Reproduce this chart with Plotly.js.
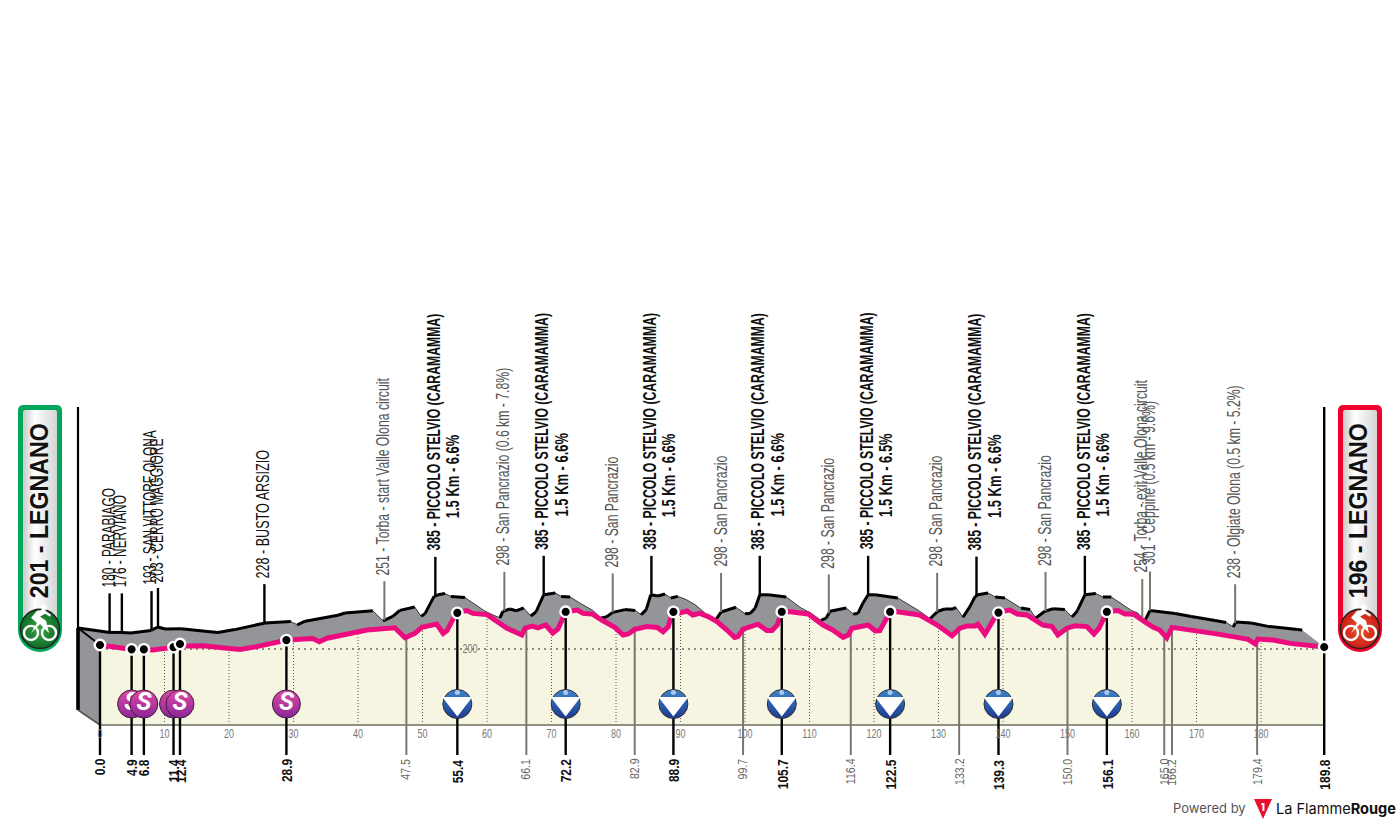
<!DOCTYPE html>
<html><head><meta charset="utf-8">
<script src="https://cdn.plot.ly/plotly-3.0.1.min.js"></script>
<style>html,body{margin:0;padding:0;background:#fff}#c{width:1400px;height:825px}</style>
</head><body><div id="c"></div>
<script>
// ---- DATA ----
const profileKm=[0,4.96,6.8,8.2,11.3,12.4,13.5,16,19.7,21.7,24.3,29,33,34,35.2,40.3,41.4,45.7,47.3,48.8,49.9,52.2,53.2,53.8,55.2,55.8,56.9,57.8,60,61.6,63.1,64.3,65.4,65.9,67,67.9,69.1,70.2,71,72.2,74,74.9,76.3,77.8,79.8,81.1,81.9,82.9,84.8,86.4,87.3,88.1,88.8,89.9,91,91.9,93,94.3,95.7,97.2,98.4,98.9,99.7,102,103.4,104.2,105,105.7,107,109.8,112.1,113.6,115.2,116,116.6,119.1,120.2,120.9,121.7,122.5,123.6,127.1,129.8,130.5,132.1,133.3,134.4,135.7,136.1,137.2,138.3,139.1,139.5,141.1,142.2,143.7,146.2,147.6,148.5,149.9,151.2,153,154.1,154.9,156.1,157.8,158.9,160.2,162,163.3,164.3,165.4,166.2,170.1,172.6,176.3,178,179.1,179.5,181.9,184.5,189.1,189.8];
const profileElev=[220,198,198,195,208,225,215,216,204,198,212,245,252,236,254,284,295,306,256,278,308,325,278,292,378,386,392,378,372,336,304,286,270,304,315,306,320,280,300,386,395,378,375,345,308,270,275,298,312,308,286,312,386,380,390,370,378,362,336,295,258,262,300,324,292,292,320,386,386,375,320,295,258,270,304,320,290,292,345,386,386,370,320,304,266,304,315,315,324,274,328,378,386,395,375,370,320,312,270,304,316,312,275,304,386,392,375,375,336,308,295,256,308,292,278,258,248,225,250,245,228,212,210];
const tickKm=[0,10,20,30,40,50,60,70,80,90,100,110,120,130,140,150,160,170,180];
const endKm=[0,189.8];
const sprintKm=[4.9,6.8,11.4,12.4,28.9];
const sprintNames=["180 - PARABIAGO","176 - NERVIANO","193 - SAN VITTORE OLONA","203 - CERRO MAGGIORE","228 - BUSTO ARSIZIO"];
const komKm=[55.4,72.2,88.9,105.7,122.5,139.3,156.1];
const komName="385 - PICCOLO STELVIO (CARAMAMMA)";
const komGrades=["1.5 Km - 6.6%","1.5 Km - 6.6%","1.5 Km - 6.6%","1.5 Km - 6.6%","1.5 Km - 6.5%","1.5 Km - 6.6%","1.5 Km - 6.6%"];
const minorKm=[47.5,66.1,82.9,99.7,116.4,133.2,150.0,165.0,166.2,179.4];
const minorNames=["251 - Torba - start Valle Olona circuit","298 - San Pancrazio (0.6 km - 7.8%)","298 - San Pancrazio","298 - San Pancrazio","298 - San Pancrazio","298 - San Pancrazio","298 - San Pancrazio","254 - Torba - exit Valle Olona circuit","301 - Ceppine (0.5 km - 9.6%)","238 - Olgiate Olona (0.5 km - 5.2%)"];
const startLabel="201 - LEGNANO", endLabel="196 - LEGNANO";

// ---- SCALES / STYLE ----
const W=1400,H=825;
const xRange=[-100/6.45,(W-100)/6.45];
const yRange=[200-(H-649)*5,200+649*5];
const base=-180, dropEnd=-330, iconY=-75;
const ridgeDx=3.41, ridgeDy=85, stemRise=195;
const SANS='"Liberation Sans",sans-serif';
const GRAY='#939598',CREAM='#f5f5e1',PINK='#ec0c80',STEM='#77776c';
const sprintFit=[0.66,0.66,0.66,0.67,0.70];
function elevAt(k){for(let i=1;i<profileKm.length;i++){if(k<=profileKm[i]){const t=(k-profileKm[i-1])/(profileKm[i]-profileKm[i-1]);return profileElev[i-1]+t*(profileElev[i]-profileElev[i-1]);}}return profileElev[profileElev.length-1];}
const ridgeKm=profileKm.map(k=>k-ridgeDx), ridgeElev=profileElev.map(e=>e+ridgeDy);
function stems(ks,y0fn,y1fn){const x=[],y=[];ks.forEach(k=>{x.push(k,k,null);y.push(y0fn(k),y1fn(k),null);});return {x,y};}
const line=(d,color,width,dash)=>({type:'scatter',mode:'lines',x:d.x,y:d.y,hoverinfo:'skip',showlegend:false,line:{color,width,dash:dash||'solid'}});
const poly=(x,y,color)=>({type:'scatter',mode:'lines',x,y,fill:'toself',fillcolor:color,line:{width:0,color},hoverinfo:'skip',showlegend:false});

const traces=[];
traces.push(poly([-ridgeDx,-ridgeDx,0,0],[profileElev[0]+ridgeDy,base+75,base,profileElev[0]],GRAY));
const lastK=profileKm[profileKm.length-1], lastE=profileElev[profileElev.length-1];
traces.push(poly(ridgeKm.concat(profileKm.slice().reverse()),ridgeElev.concat(profileElev.slice().reverse()),GRAY));
traces.push(line({x:ridgeKm,y:ridgeElev},'#3a3a3a',1));
const hx=[],hy=[];
for(let i=1;i<ridgeKm.length;i++){const s=(ridgeElev[i]-ridgeElev[i-1])/(ridgeKm[i]-ridgeKm[i-1]);if(s>=-10){hx.push(ridgeKm[i-1],ridgeKm[i],null);hy.push(ridgeElev[i-1],ridgeElev[i],null);}}
traces.push(line({x:hx,y:hy},'#000',3));
traces.push(line({x:[-ridgeDx,0],y:[profileElev[0]+ridgeDy,profileElev[0]]},'#000',1.8));
traces.push(line({x:[-ridgeDx,-ridgeDx],y:[1410,base+75]},'#000',2.2));
traces.push(line({x:[-ridgeDx,-ridgeDx],y:[profileElev[0]+ridgeDy,base+75]},'#000',3.6));
traces.push(line({x:[-ridgeDx,0],y:[base+75,base]},'#55554c',1.6));
const ridgeAt=k=>elevAt(k)+ridgeDy;
const upTop=k=>elevAt(k)+ridgeDy+stemRise;
traces.push(line(stems(minorKm.map(k=>k-ridgeDx),k=>ridgeAt(k+ridgeDx),k=>upTop(k+ridgeDx)),STEM,2));
traces.push(line(stems(sprintKm.concat(komKm).map(k=>k-ridgeDx),k=>ridgeAt(k+ridgeDx),k=>upTop(k+ridgeDx)),'#000',2.4));
traces.push(poly([0].concat(profileKm,[lastK]),[base].concat(profileElev,[base]),CREAM));
traces.push(line(stems(tickKm.slice(1),k=>base,k=>elevAt(k)),'#55554c',1,'1px,2px'));
traces.push(line({x:[0,lastK],y:[200,200]},'#8d8d80',2,'2px,4px'));
traces.push(line({x:[0,lastK],y:[base,base]},'#8f8f82',2.2));
traces.push(line(stems(minorKm,k=>elevAt(k),k=>dropEnd),STEM,2));
traces.push(line({x:profileKm,y:profileElev},PINK,5));
traces.push(line(stems(endKm.concat(sprintKm,komKm),k=>elevAt(k),k=>dropEnd),'#000',2.4));
traces.push(line({x:[lastK,lastK],y:[lastE,1410]},'#000',2.4));
sprintKm.forEach(k=>{
 traces.push({type:'scatter',mode:'markers',x:[k],y:[iconY],hoverinfo:'skip',showlegend:false,
  marker:{size:28,color:'#e04aa4',gradient:{type:'vertical',color:'#8a2596'},line:{color:'#3a2040',width:1}}});
 traces.push({type:'scatter',mode:'text',x:[k],y:[iconY],text:['S'],textposition:'middle center',hoverinfo:'skip',showlegend:false,
  textfont:{family:'Roboto',size:25,color:'#fff',weight:700,style:'italic'}});
});
traces.push({type:'scatter',mode:'markers',x:komKm,y:komKm.map(()=>iconY),hoverinfo:'skip',showlegend:false,
  marker:{size:29,color:'#3f84cc',gradient:{type:'vertical',color:'#1c3a8e'},line:{color:'#333',width:1}}});
traces.push({type:'scatter',mode:'markers',x:komKm,y:komKm.map(()=>iconY+3),hoverinfo:'skip',showlegend:false,
  marker:{size:26,color:'#fff',symbol:'triangle-down'}});
traces.push({type:'scatter',mode:'markers',x:komKm,y:komKm.map(()=>iconY+57),hoverinfo:'skip',showlegend:false,
  marker:{size:5,color:'#a9c8ea'}});
const dotKm=endKm.concat(sprintKm,komKm);
traces.push({type:'scatter',mode:'markers',x:dotKm,y:dotKm.map(elevAt),hoverinfo:'skip',showlegend:false,
  marker:{size:10.5,color:'#000',line:{color:'#fff',width:2.4}}});

// ---- TEXT ----
const ann=[],fit=[];
const up=(k,text,size,color,bold,dx,dy,f)=>{ann.push({x:k-ridgeDx,y:upTop(k),xref:'x',yref:'y',text:bold?'<b>'+text+'</b>':text,textangle:-90,showarrow:false,
  xanchor:'center',yanchor:'bottom',xshift:dx||0,yshift:(dy||0)+5,borderpad:0,font:{family:SANS,size,color}});fit.push([f,'start']);};
const down=(k,text,size,color,bold,f)=>{ann.push({x:k,y:dropEnd,xref:'x',yref:'y',text:bold?'<b>'+text+'</b>':text,textangle:-90,showarrow:false,
  xanchor:'center',yanchor:'top',yshift:-3,borderpad:0,font:{family:SANS,size,color}});fit.push([f,'end']);};
sprintKm.forEach((k,i)=>{up(k,sprintNames[i],18,'#111',false,-1,0,sprintFit[i]);down(k,k.toFixed(1),15,'#111',true,0.8);});
komKm.forEach((k,i)=>{up(k,komName,18,'#111',true,-1,0,0.68);up(k,komGrades[i],18,'#111',true,18,33,0.72);down(k,k.toFixed(1),15,'#111',true,0.8);});
minorKm.forEach((k,i)=>{up(k,minorNames[i],18,'#555',false,-1,0,0.68);down(k,k.toFixed(1),12.5,'#666',false,0.85);});
endKm.forEach(k=>down(k,k.toFixed(1),15,'#111',true,0.8));
ann.push({x:55.4+2,y:200,xref:'x',yref:'y',text:'200',showarrow:false,xanchor:'center',yanchor:'middle',font:{family:SANS,size:12,color:'#7a7a70'}});fit.push([0.75,'mid']);
const pa=(px,py,text,size,color,family,f)=>{ann.push({x:px/W,y:1-py/H,xref:'paper',yref:'paper',text,showarrow:false,xanchor:'left',yanchor:'middle',borderpad:0,font:{family,size,color}});fit.push([f,'start']);};
ann.push({x:39/W,y:1-511/H,xref:'paper',yref:'paper',text:'<b>'+startLabel+'</b>',textangle:-90,showarrow:false,xanchor:'center',yanchor:'middle',borderpad:0,font:{family:SANS,size:26,color:'#111'}});fit.push([0.89,'mid']);
ann.push({x:1358/W,y:1-511/H,xref:'paper',yref:'paper',text:'<b>'+endLabel+'</b>',textangle:-90,showarrow:false,xanchor:'center',yanchor:'middle',borderpad:0,font:{family:SANS,size:26,color:'#111'}});fit.push([0.89,'mid']);
pa(1172,808,'Powered by',13,'#555','Inter',1);
pa(1275,808,'La Flamme<b>Rouge</b>',15,'#111','Inter',0.97);

// ---- DECORATION ----
function banner(edge,grad1,grad2){
 const rider='<g fill="#fff"><circle cx="29" cy="229" r="7" fill="none" stroke="#fff" stroke-width="2.4"/><circle cx="47" cy="229" r="7" fill="none" stroke="#fff" stroke-width="2.4"/><path d="M29 229l9-9 9 9-3-12-6-4 5-3 5 3 1-2-7-5-7 1-6 7 6 5z"/><circle cx="42" cy="204" r="3"/></g>';
 const svg='<svg xmlns="http://www.w3.org/2000/svg" width="46" height="248" viewBox="0 0 46 248"><defs><linearGradient id="g"><stop offset="0" stop-color="#c9c9c9"/><stop offset=".35" stop-color="#fff"/><stop offset="1" stop-color="#d4d4d4"/></linearGradient><radialGradient id="r"><stop offset="0" stop-color="'+grad1+'"/><stop offset="1" stop-color="'+grad2+'"/></radialGradient></defs>'+
 '<path d="M6 1h34a5 5 0 0 1 5 5v219a22 22 0 0 1-44 0v-219a5 5 0 0 1 5-5z" fill="'+edge+'"/>'+
 '<rect x="6" y="6" width="34" height="215" rx="2" fill="url(#g)"/>'+
 '<circle cx="23" cy="224" r="19.5" fill="url(#r)" stroke="#222" stroke-width="1.5"/><g transform="translate(-15,-1)">'+rider+'</g></svg>';
 return 'data:image/svg+xml;base64,'+btoa(svg);
}
const img=(src,px,py,w,h)=>({source:src,xref:'paper',yref:'paper',x:px/W,y:1-py/H,sizex:w/W,sizey:h/H,xanchor:'left',yanchor:'top',sizing:'stretch',layer:'above'});
const logo='data:image/svg+xml;base64,'+btoa('<svg xmlns="http://www.w3.org/2000/svg" width="20" height="22" viewBox="0 0 20 22"><path d="M1 1h18l-9 20z" fill="#e8112d"/><path d="M9 5h2.4v8h-2v-6h-1.6z" fill="#fff"/></svg>');

const layout={width:W,height:H,margin:{l:0,r:0,t:0,b:0},paper_bgcolor:'#fff',plot_bgcolor:'#fff',showlegend:false,
 xaxis:{range:xRange,domain:[0,1],anchor:'free',position:100/H,tickmode:'array',tickvals:tickKm,ticktext:tickKm.map(String),showline:false,showgrid:false,zeroline:false,ticks:'',
  tickfont:{family:SANS,size:12.5,color:'#777'},fixedrange:true},
 yaxis:{range:yRange,domain:[0,1],visible:false,fixedrange:true},
 annotations:ann,
 images:[img(banner('#00a75a','#3aa63f','#0f6b2a'),17,404,46,249),img(banner('#f2002d','#f0552a','#c81e16'),1337,404,46,249),img(logo,1253,798,20,22)]};

// narrow the installed sans to the reference's condensed lettering
function squeeze(t,f,side){
 if(f===1)return;
 const b=t.getBBox();
 const p=side==='start'?b.x:side==='end'?b.x+b.width:b.x+b.width/2;
 const prev=t.getAttribute('transform')||'';
 t.setAttribute('transform',prev+' translate('+p+',0) scale('+f+',1) translate('+(-p)+',0)');
}
Plotly.newPlot('c',traces,layout,{displayModeBar:false,staticPlot:true}).then(gd=>{
 gd.querySelectorAll('.annotation').forEach(a=>{
  const i=+a.getAttribute('data-index');
  const t=a.querySelector('text.annotation-text');
  if(t&&fit[i])squeeze(t,fit[i][0],fit[i][1]);
 });
 gd.querySelectorAll('.xtick text').forEach(t=>squeeze(t,0.72,'mid'));
});
</script></body></html>
